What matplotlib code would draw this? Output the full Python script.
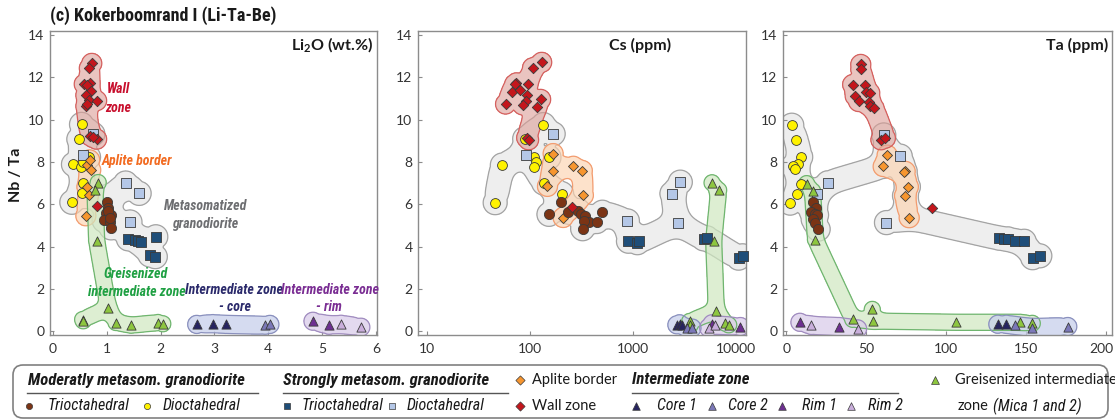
import numpy as np
import matplotlib
matplotlib.use("Agg")
import matplotlib.pyplot as plt
from matplotlib.patches import FancyBboxPatch
from matplotlib.transforms import ScaledTranslation

# ------------------------------------------------------------------
# Nb/Ta of micas vs. Li2O (wt.%)
li_wall_x = [0.72, 0.675, 0.58, 0.69, 0.64, 0.70, 0.61, 0.66, 0.81, 0.61, 0.64, 0.69, 0.81, 0.74]
li_wall_y = [12.66, 12.43, 11.68, 11.73, 11.65, 11.34, 11.15, 10.93, 10.90, 10.64, 10.72, 9.24, 9.08, 9.16]
li_wall_lone_x = [0.81]
li_wall_lone_y = [5.90]
li_dioct_mod_x = [0.53, 0.48, 0.38, 0.52, 0.55, 0.66, 0.55, 0.53, 0.35]
li_dioct_mod_y = [9.78, 9.08, 7.89, 7.76, 7.99, 8.23, 7.03, 6.55, 6.10]
li_aplite_x = [0.63, 0.70, 0.68, 0.63, 0.66, 0.61]
li_aplite_y = [7.84, 7.62, 8.10, 6.83, 6.44, 5.46]
li_trioct_mod_x = [1.00, 1.03, 0.99, 1.07, 0.95, 1.06, 1.08, 1.02, 1.05]
li_trioct_mod_y = [6.13, 5.82, 5.59, 5.51, 5.24, 5.15, 4.89, 5.70, 5.35]
li_dioct_str_x = [0.74, 0.55, 1.35, 1.60, 1.43]
li_dioct_str_y = [9.32, 8.34, 7.01, 6.52, 5.17]
li_trioct_str_x = [1.40, 1.52, 1.57, 1.64, 1.91, 1.80, 1.90]
li_trioct_str_y = [4.37, 4.34, 4.29, 4.23, 4.47, 3.61, 3.53]
li_greisen_x = [0.84, 0.78, 0.81, 1.03, 0.55, 0.56, 1.17, 1.45, 1.95, 2.04]
li_greisen_y = [7.03, 6.67, 4.29, 1.11, 0.56, 0.50, 0.42, 0.29, 0.42, 0.36]
li_core1_x = [2.67, 2.97, 3.21]
li_core1_y = [0.33, 0.37, 0.33]
li_core2_x = [3.94, 4.03]
li_core2_y = [0.29, 0.33]
li_rim1_x = [4.83, 5.13]
li_rim1_y = [0.48, 0.29]
li_rim2_x = [5.35, 5.72]
li_rim2_y = [0.34, 0.20]

# Nb/Ta of micas vs. Cs (ppm)
cs_wall_x = [130, 106, 74, 71, 96, 67, 81, 93, 91, 127, 58, 85, 116, 93, 97]
cs_wall_y = [12.71, 12.45, 11.74, 11.67, 11.67, 11.32, 11.40, 11.16, 10.90, 10.96, 10.74, 10.70, 10.62, 9.15, 9.05]
cs_wall_lone_x = [258]
cs_wall_lone_y = [5.89]
cs_dioct_mod_x = [135, 89, 54, 110, 114, 110, 153, 136, 203, 46]
cs_dioct_mod_y = [9.77, 9.10, 7.86, 8.26, 7.98, 7.75, 8.22, 7.01, 6.51, 6.08]
cs_aplite_x = [168, 166, 264, 322, 148, 330, 210]
cs_aplite_y = [8.40, 7.60, 7.80, 7.60, 6.85, 6.43, 5.38]
cs_trioct_mod_x = [200, 153, 236, 294, 313, 342, 377, 334, 444, 505, 325]
cs_trioct_mod_y = [6.12, 5.53, 5.63, 5.71, 5.53, 5.43, 5.19, 5.22, 5.19, 5.63, 4.85]
cs_dioct_str_x = [168, 91, 883, 2388, 2878, 2731]
cs_dioct_str_y = [9.33, 8.34, 5.22, 6.51, 7.05, 5.12]
cs_trioct_str_x = [904, 1104, 1150, 4853, 5220, 10600, 11600]
cs_trioct_str_y = [4.26, 4.19, 4.26, 4.37, 4.42, 3.46, 3.57]
cs_greisen_x = [5850, 6790, 6070, 6440, 3550, 3600, 7880, 8490]
cs_greisen_y = [7.02, 6.67, 4.29, 0.98, 0.47, 0.31, 0.39, 0.31]
cs_core1_x = [2667, 2835, 2985]
cs_core1_y = [0.31, 0.36, 0.28]
cs_core2_x = [3335, 3740]
cs_core2_y = [0.16, 0.16]
cs_rim1_x = [5850, 11000]
cs_rim1_y = [0.36, 0.23]
cs_rim2_x = [5420, 6300]
cs_rim2_y = [0.17, 0.30]

# Nb/Ta of micas vs. Ta (ppm)
ta_wall_x = [46.7, 46.7, 41.6, 49.4, 43.2, 49.8, 52.3, 45.3, 51.9, 52.5, 55.0, 59.3, 62.1]
ta_wall_y = [12.61, 12.38, 11.66, 11.66, 11.12, 11.32, 11.27, 10.86, 10.84, 10.64, 10.55, 9.05, 9.13]
ta_wall_lone_x = [91.6]
ta_wall_lone_y = [5.83]
ta_dioct_mod_x = [3.5, 6.2, 9.1, 7.6, 4.1, 5.6, 9.3, 6.6, 2.5]
ta_dioct_mod_y = [9.74, 9.05, 8.24, 7.93, 7.79, 7.67, 6.98, 6.47, 6.06]
ta_aplite_x = [63.2, 60.7, 74.5, 73.5, 76.5, 74.1, 77.0]
ta_aplite_y = [8.33, 7.79, 7.56, 7.52, 6.83, 6.41, 5.37]
ta_trioct_mod_x = [16.5, 18.5, 15.8, 17.9, 19.0, 16.9, 17.9, 20.0]
ta_trioct_mod_y = [6.09, 5.85, 5.64, 5.55, 5.50, 5.29, 5.14, 4.83]
ta_dioct_str_x = [61.1, 71.4, 26.1, 19.5, 62.8]
ta_dioct_str_y = [9.28, 8.28, 7.02, 6.47, 5.14]
ta_trioct_str_x = [133.5, 136.6, 138.9, 143.4, 149.0, 154.3, 158.8]
ta_trioct_str_y = [4.40, 4.37, 4.37, 4.25, 4.26, 3.48, 3.57]
ta_greisen_x = [12.8, 16.5, 18.3, 53.9, 41.6, 54.3, 106.4, 146.5, 154.1]
ta_greisen_y = [6.98, 6.63, 4.34, 1.04, 0.57, 0.49, 0.43, 0.43, 0.38]
ta_core1_x = [132.5, 137.9]
ta_core1_y = [0.34, 0.34]
ta_core2_x = [143.4, 153.7, 176.3]
ta_core2_y = [0.28, 0.18, 0.23]
ta_rim1_x = [8.6, 33.3]
ta_rim1_y = [0.43, 0.23]
ta_rim2_x = [15.8, 44.7]
ta_rim2_y = [0.28, 0.12]

panel_titles = ["Li$_2$O (wt.%)", "Cs (ppm)", "Ta (ppm)"]
y_ticks = [0, 2, 4, 6, 8, 10, 12, 14]
li_ticks = [0, 1, 2, 3, 4, 5, 6]
cs_ticks = [10, 100, 1000, 10000]
ta_ticks = [0, 50, 100, 150, 200]

# ------------------------------------------------------------------
NARROW = ['Roboto Condensed', 'Archivo Narrow', 'DejaVu Sans']
BASE = ['Lato', 'DejaVu Sans']
plt.rcParams['font.family'] = BASE
plt.rcParams['mathtext.fontset'] = 'custom'
plt.rcParams['mathtext.rm'] = 'Lato:bold'
plt.rcParams['mathtext.default'] = 'rm'

C = dict(
    trioct_mod='#7b3415', dioct_mod='#fff200', trioct_str='#1f4e79',
    dioct_str='#b4c7e7', aplite='#f7962f', wall='#c4161c',
    core1='#27245f', core2='#7b78b8', rim1='#6d2f91', rim2='#c9aedb',
    greisen='#8dc63f')

W, H = 1115, 420
fig = plt.figure(figsize=(W / 100, H / 100), dpi=100)


def px_rect(l, t, r, b):
    return [l / W, 1 - b / H, (r - l) / W, (b - t) / H]


ax1 = fig.add_axes(px_rect(50, 31, 377, 335))
ax2 = fig.add_axes(px_rect(418, 31, 746, 335))
ax3 = fig.add_axes(px_rect(783, 31, 1112, 335))

ax1.set_xlim(-0.056, 6.02)
ax2.set_xscale('log')
ax2.set_xlim(8.2, 12500)
ax3.set_xlim(-2, 204)
for ax in (ax1, ax2, ax3):
    ax.set_ylim(-0.17, 14.19)
    ax.set_yticks(y_ticks)
    for s in ax.spines.values():
        s.set_color('#8c8c8c')
        s.set_linewidth(1.0)
    ax.tick_params(direction='in', length=3, width=0.8, color='#8c8c8c',
                   labelsize=10, labelcolor='#333333', pad=4)
    ax.tick_params(axis='x', pad=6)
ax1.set_xticks(li_ticks)
ax2.set_xticks(cs_ticks)
ax2.set_xticklabels([str(t) for t in cs_ticks])
ax2.minorticks_off()
ax3.set_xticks(ta_ticks)
last = ax3.xaxis.get_major_ticks()[-1].label1
last.set_horizontalalignment('right')
last.set_transform(last.get_transform() + ScaledTranslation(0.08, 0, fig.dpi_scale_trans))


def blob(ax, xs, ys, fill, edge, radius=10.0, alpha=0.6, z=1):
    """Smooth envelope around a group of points (metaball along a spanning tree)."""
    pts = ax.transData.transform(np.column_stack([xs, ys]).astype(float))
    n = len(pts)
    used = np.zeros(n, bool)
    used[0] = True
    best = np.hypot(*(pts - pts[0]).T)
    parent = np.zeros(n, int)
    edges = []
    for _ in range(n - 1):
        cand = np.where(used, np.inf, best)
        j = int(np.argmin(cand))
        used[j] = True
        edges.append((parent[j], j))
        dj = np.hypot(*(pts - pts[j]).T)
        upd = (~used) & (dj < best)
        best[upd] = dj[upd]
        parent[upd] = j
    sig = radius / np.sqrt(2 * np.log(5))
    samp, wts = [], []
    for a, b in edges:
        L = np.hypot(*(pts[b] - pts[a]))
        k = max(int(np.ceil(L)), 1)
        t = (np.arange(k) + 0.5) / k
        samp.append(pts[a] + np.outer(t, pts[b] - pts[a]))
        wts.append(np.full(k, (L / k) / (np.sqrt(2 * np.pi) * sig)))
    pad = 4 * radius
    gx = np.arange(pts[:, 0].min() - pad, pts[:, 0].max() + pad, 1.5)
    gy = np.arange(pts[:, 1].min() - pad, pts[:, 1].max() + pad, 1.5)
    GX, GY = np.meshgrid(gx, gy)
    flat = np.column_stack([GX.ravel(), GY.ravel()])
    F = np.zeros(len(flat))
    if samp:
        S = np.vstack(samp)
        Wt = np.concatenate(wts)
        for i in range(0, len(S), 40):
            d2 = ((flat[:, None, :] - S[None, i:i + 40, :]) ** 2).sum(-1)
            F += (np.exp(-d2 / (2 * sig * sig)) * Wt[None, i:i + 40]).sum(1)
    d2p = ((flat[:, None, :] - pts[None, :, :]) ** 2).sum(-1).min(1)
    F = np.maximum(F, np.exp(-d2p / (2 * sig * sig)))
    data = ax.transData.inverted().transform(flat)
    X = data[:, 0].reshape(GX.shape)
    Y = data[:, 1].reshape(GX.shape)
    F = F.reshape(GX.shape)
    ax.contourf(X, Y, F, levels=[0.2, F.max() + 1], colors=[fill], alpha=alpha, zorder=z)
    ax.contour(X, Y, F, levels=[0.2], colors=[edge], linewidths=0.9, zorder=z + 0.1)


def pts(ax, x, y, key, marker, s):
    ax.scatter(x, y, s=s, marker=marker, c=C[key], edgecolors='#3a3a3a',
               linewidths=0.6, zorder=3, clip_on=False)


panels = [
    (ax1, False, dict(wall=(li_wall_x, li_wall_y), lone=(li_wall_lone_x, li_wall_lone_y),
               dioct_mod=(li_dioct_mod_x, li_dioct_mod_y), aplite=(li_aplite_x, li_aplite_y),
               trioct_mod=(li_trioct_mod_x, li_trioct_mod_y), dioct_str=(li_dioct_str_x, li_dioct_str_y),
               trioct_str=(li_trioct_str_x, li_trioct_str_y), greisen=(li_greisen_x, li_greisen_y),
               core1=(li_core1_x, li_core1_y), core2=(li_core2_x, li_core2_y),
               rim1=(li_rim1_x, li_rim1_y), rim2=(li_rim2_x, li_rim2_y))),
    (ax2, False, dict(wall=(cs_wall_x, cs_wall_y), lone=(cs_wall_lone_x, cs_wall_lone_y),
               dioct_mod=(cs_dioct_mod_x, cs_dioct_mod_y), aplite=(cs_aplite_x, cs_aplite_y),
               trioct_mod=(cs_trioct_mod_x, cs_trioct_mod_y), dioct_str=(cs_dioct_str_x, cs_dioct_str_y),
               trioct_str=(cs_trioct_str_x, cs_trioct_str_y), greisen=(cs_greisen_x, cs_greisen_y),
               core1=(cs_core1_x, cs_core1_y), core2=(cs_core2_x, cs_core2_y),
               rim1=(cs_rim1_x, cs_rim1_y), rim2=(cs_rim2_x, cs_rim2_y))),
    (ax3, True, dict(wall=(ta_wall_x, ta_wall_y), lone=(ta_wall_lone_x, ta_wall_lone_y),
               dioct_mod=(ta_dioct_mod_x, ta_dioct_mod_y), aplite=(ta_aplite_x, ta_aplite_y),
               trioct_mod=(ta_trioct_mod_x, ta_trioct_mod_y), dioct_str=(ta_dioct_str_x, ta_dioct_str_y),
               trioct_str=(ta_trioct_str_x, ta_trioct_str_y), greisen=(ta_greisen_x, ta_greisen_y),
               core1=(ta_core1_x, ta_core1_y), core2=(ta_core2_x, ta_core2_y),
               rim1=(ta_rim1_x, ta_rim1_y), rim2=(ta_rim2_x, ta_rim2_y))),
]

for ax, wrap_aplite, d in panels:
    meta = ['dioct_mod', 'dioct_str', 'trioct_mod', 'trioct_str'] + (['aplite'] if wrap_aplite else [])
    meta_x = sum((list(d[k][0]) for k in meta), [])
    meta_y = sum((list(d[k][1]) for k in meta), [])
    blob(ax, meta_x, meta_y, '#e9e9e9', '#a3a3a3', radius=12, alpha=0.75, z=1.0)
    blob(ax, *d['aplite'], '#fcd3b0', '#f29c70', radius=10, alpha=0.65, z=1.2)
    blob(ax, *d['wall'], '#dc9e96', '#d5605e', radius=10, alpha=0.6, z=1.4)
    blob(ax, *d['greisen'], '#cfe8c0', '#6fb56f', radius=8, alpha=0.7, z=1.6)
    blob(ax, d['core1'][0] + d['core2'][0], d['core1'][1] + d['core2'][1],
         '#c7d0ec', '#8a90bd', radius=9, alpha=0.75, z=1.6)
    blob(ax, d['rim1'][0] + d['rim2'][0], d['rim1'][1] + d['rim2'][1],
         '#dacdea', '#a08cbf', radius=9, alpha=0.75, z=1.6)

    pts(ax, *d['dioct_mod'], 'dioct_mod', 'o', 50)
    pts(ax, *d['dioct_str'], 'dioct_str', 's', 46)
    pts(ax, *d['trioct_str'], 'trioct_str', 's', 52)
    pts(ax, *d['aplite'], 'aplite', 'D', 26)
    pts(ax, *d['trioct_mod'], 'trioct_mod', 'o', 54)
    pts(ax, *d['wall'], 'wall', 'D', 28)
    pts(ax, *d['lone'], 'wall', 'D', 28)
    pts(ax, *d['greisen'], 'greisen', '^', 44)
    pts(ax, *d['core1'], 'core1', '^', 44)
    pts(ax, *d['core2'], 'core2', '^', 44)
    pts(ax, *d['rim1'], 'rim1', '^', 44)
    pts(ax, *d['rim2'], 'rim2', '^', 44)

ax1.text(0.987, 0.955, panel_titles[0], transform=ax1.transAxes, ha='right', va='center',
         fontsize=11.5, fontweight='bold', color='#1a1a1a')
ax2.text(0.677, 0.952, panel_titles[1], transform=ax2.transAxes, ha='center', va='center',
         fontsize=11.5, fontweight='bold', color='#1a1a1a')
ax3.text(0.988, 0.952, panel_titles[2], transform=ax3.transAxes, ha='right', va='center',
         fontsize=11.5, fontweight='bold', color='#1a1a1a')

# group labels in the Li2O panel
lab = dict(family=NARROW, fontsize=10, fontweight='bold', style='italic', ha='center', va='center')
ax1.text(1.21, 11.45, 'Wall', color='#c8102e', **lab)
ax1.text(1.21, 10.55, 'zone', color='#c8102e', **lab)
ax1.text(1.55, 8.04, 'Aplite border', color='#f26b21', **lab)
ax1.text(2.84, 5.93, 'Metasomatized', color='#6d6e71', **lab)
ax1.text(2.83, 5.07, 'granodiorite', color='#6d6e71', **lab)
ax1.text(1.54, 2.71, 'Greisenized', color='#1fa043', **lab)
ax1.text(1.56, 1.88, 'intermediate zone', color='#1fa043', **lab)
ax1.text(3.37, 1.96, 'Intermediate zone', color='#2b2a6b', **lab)
ax1.text(3.38, 1.15, '- core', color='#2b2a6b', **lab)
ax1.text(5.15, 1.96, 'Intermediate zone', color='#7a2d93', **lab)
ax1.text(5.13, 1.15, '- rim', color='#7a2d93', **lab)

fig.text(50 / W, 1 - 16 / H, '(c) Kokerboomrand I (Li-Ta-Be)', ha='left', va='center',
         family=NARROW, fontsize=13, fontweight='bold', color='#1a1a1a')
fig.text(16 / W, 1 - 175 / H, 'Nb / Ta', rotation=90, ha='center', va='center',
         fontsize=11.5, fontweight='bold', color='#1a1a1a')

# ------------------------------------------------------------------
# legend panel drawn in pixel units
lg = fig.add_axes([0, 0, 1, 1])
lg.set_xlim(0, W)
lg.set_ylim(H, 0)
lg.axis('off')
lg.add_patch(FancyBboxPatch((13, 365), 1095, 53, boxstyle='round,pad=0,rounding_size=10',
                            facecolor='none', edgecolor='#808080', linewidth=1.2))

hd = dict(family=NARROW, fontsize=12, fontweight='bold', style='italic', ha='left',
          va='center', color='#1a1a1a')
it = dict(family=NARROW, fontsize=11.5, style='italic', ha='left', va='center', color='#1a1a1a')
rg = dict(fontsize=10.5, ha='left', va='center', color='#1a1a1a')
Y1, Y2, YU = 380, 406, 393


def lm(x, y, key, marker, s):
    lg.scatter([x], [y], s=s, marker=marker, c=C[key], edgecolors='#3a3a3a', linewidths=0.5)


lg.text(28, Y1, 'Moderatly metasom. granodiorite', **hd)
lg.plot([27, 258], [YU, YU], color='#555555', lw=1)
lm(29, Y2, 'trioct_mod', 'o', 20)
lg.text(48, Y2, 'Trioctahedral', **it)
lm(147, Y2, 'dioct_mod', 'o', 20)
lg.text(163, Y2, 'Dioctahedral', **it)

lg.text(283, Y1, 'Strongly metasom. granodiorite', **hd)
lg.plot([283, 508], [YU, YU], color='#555555', lw=1)
lm(287, Y2, 'trioct_str', 's', 22)
lg.text(302, Y2, 'Trioctahedral', **it)
lm(392, Y2, 'dioct_str', 's', 22)
lg.text(407, Y2, 'Dioctahedral', **it)

lm(520, Y1, 'aplite', 'D', 22)
lg.text(532, Y1, 'Aplite border', **rg)
lm(520, Y2, 'wall', 'D', 22)
lg.text(532, Y2, 'Wall zone', **rg)

lg.text(632, Y1, 'Intermediate zone', **hd)
lg.plot([632, 898], [YU, YU], color='#555555', lw=1)
for xm, xt, key, name in [(636, 657, 'core1', 'Core 1'), (712, 728, 'core2', 'Core 2'),
                          (782, 802, 'rim1', 'Rim 1'), (851, 868, 'rim2', 'Rim 2')]:
    lm(xm, Y2, key, '^', 30)
    lg.text(xt, Y2, name, **it)

lm(935, Y1, 'greisen', '^', 32)
lg.text(955, Y1, 'Greisenized intermediate', **rg)
lg.text(958, Y2, 'zone', **rg)
lg.text(993, Y2, '(Mica 1 and 2)', **it)

fig.savefig('out.png', dpi=100)
